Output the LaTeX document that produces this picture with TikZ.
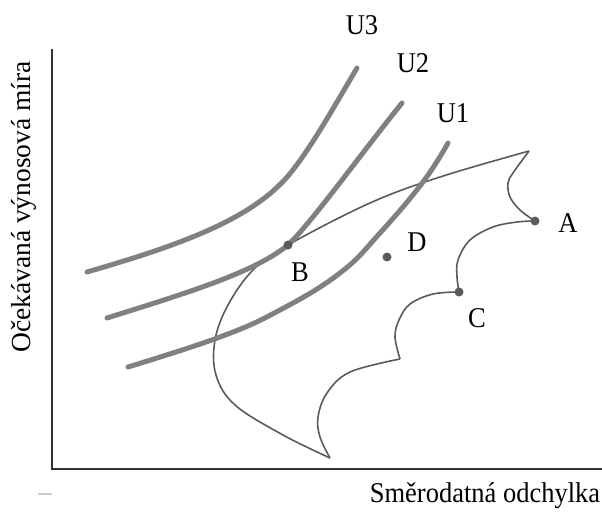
\documentclass[tikz,border=0pt]{standalone}
\usepackage{fontspec}
\setmainfont{Liberation Serif}
\usetikzlibrary{positioning}
\definecolor{utilgray}{RGB}{128,128,128}
\definecolor{setgray}{RGB}{90,90,90}
\definecolor{axisgray}{RGB}{50,50,50}

\begin{document}
\begin{tikzpicture}[
    x=1pt, y=-1pt,
    indiff/.style={draw=utilgray, line width=5pt, line cap=round},
    border/.style={draw=setgray, line width=1.6pt},
    portf/.style={circle, fill=setgray, inner sep=0pt, minimum size=9pt},
    lbl/.style={font=\fontsize{26.5}{27}\selectfont, inner sep=1pt, yscale=1.08},
]
\useasboundingbox (0,0) rectangle (602,512);

% Axes
\draw[axisgray, line width=2pt] (52,49) -- (52,469) -- (602,469);
\draw[black!20, line width=2pt] (38,494) -- (52,494);
\node[font=\fontsize{27.5}{28}\selectfont, inner sep=1pt, rotate=90] (ylab) at (24,207) {Očekávaná výnosová míra};
\node[lbl] (xlab) at (485,496) {Směrodatná odchylka};

% Portfolios
\coordinate (A) at (535,221);
\coordinate (B) at (288,245);
\coordinate (C) at (459,292);
\coordinate (D) at (387,257);
\coordinate (tip) at (529,151);
\coordinate (bot) at (330,458);
\coordinate (cusp) at (400,359);

% Feasible set
\draw[border] plot[smooth, tension=0.6] coordinates {(tip) (440,177) (370,203) (B) (253,270) (228,305) (215,340) (216,375) (235,405) (283,435) (bot)};
\draw[border] plot[smooth, tension=0.6] coordinates {(bot) (320,437) (318,417) (327,393) (350,372) (cusp)};
\draw[border] plot[smooth, tension=0.6] coordinates {(cusp) (395,337) (399,320) (410,304) (433,294) (C)};
\draw[border] plot[smooth, tension=0.6] coordinates {(C) (457,277) (458,260) (470,240) (493,227) (517,222) (A)};
\draw[border] plot[smooth, tension=0.6] coordinates {(A) (520,210) (510,197) (508,183) (513,173) (tip)};

% Indifference curves
\draw[indiff] (87,272) .. controls (180,245) and (250,220) .. (288,176) .. controls (310,150) and (335,105) .. (357,68);
\draw[indiff] (107,318) .. controls (190,292) and (255,272) .. (B) .. controls (312,222) and (360,155) .. (402,103);
\draw[indiff] plot[smooth, tension=0.7] coordinates {(128,367) (220,337) (280,310) (340,273) (380,233) (423,182) (448,143)};

\foreach \p in {A, B, C, D} {
    \node[portf] (dot\p) at (\p) {};
}

% Labels
\node[lbl] (labU3) at (362,25) {U3};
\node[lbl] (labU2) at (413,63) {U2};
\node[lbl] (labU1) at (453,113) {U1};
\node[lbl] (labA) at (568,223) {A};
\node[lbl] (labB) at (300,272) {B};
\node[lbl] (labC) at (477,318) {C};
\node[lbl] (labD) at (417,242) {D};

\end{tikzpicture}
\end{document}
